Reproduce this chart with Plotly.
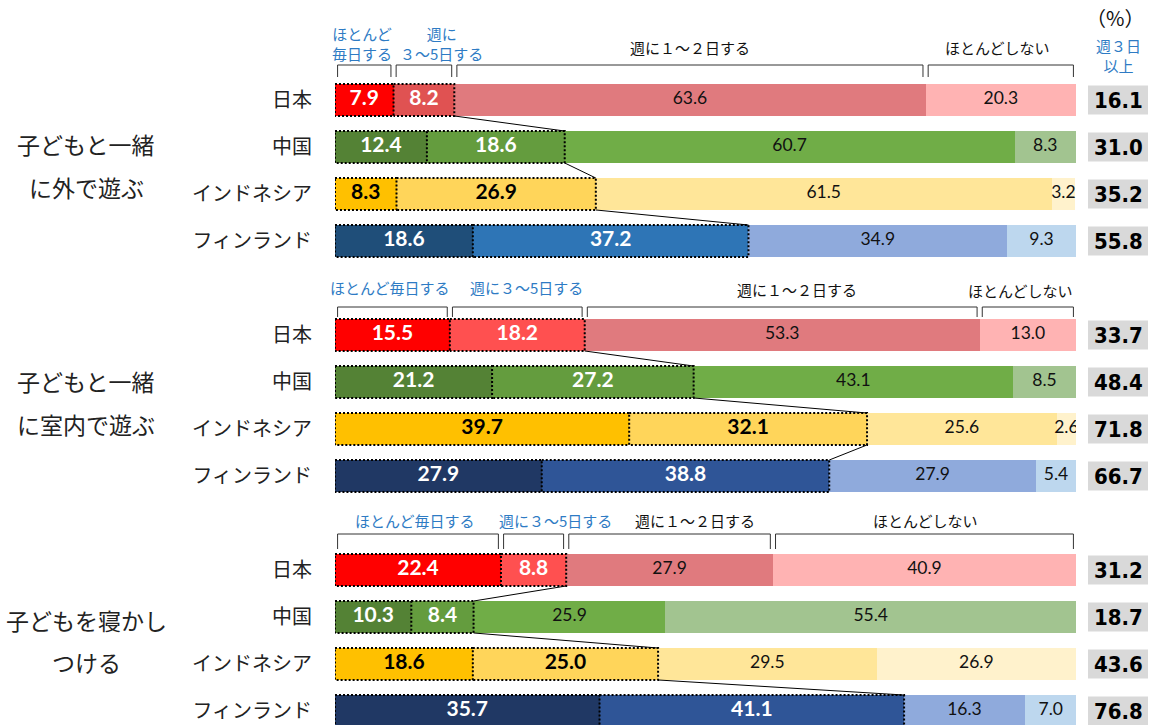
import plotly.graph_objects as go

# ---------------------------------------------------------------
# data
groups = ["子どもと一緒に外で遊ぶ", "子どもと一緒に室内で遊ぶ", "子どもを寝かしつける"]
group_lines = [["子どもと一緒", "に外で遊ぶ"],
               ["子どもと一緒", "に室内で遊ぶ"],
               ["子どもを寝かし", "つける"]]
countries = ["日本", "中国", "インドネシア", "フィンランド"]
segments = ["ほとんど毎日する", "週に３～5日する", "週に１～２日する", "ほとんどしない"]

outside = [[7.9, 8.2, 63.6, 20.3],
           [12.4, 18.6, 60.7, 8.3],
           [8.3, 26.9, 61.5, 3.2],
           [18.6, 37.2, 34.9, 9.3]]
indoor = [[15.5, 18.2, 53.3, 13.0],
          [21.2, 27.2, 43.1, 8.5],
          [39.7, 32.1, 25.6, 2.6],
          [27.9, 38.8, 27.9, 5.4]]
bedtime = [[22.4, 8.8, 27.9, 40.9],
           [10.3, 8.4, 25.9, 55.4],
           [18.6, 25.0, 29.5, 26.9],
           [35.7, 41.1, 16.3, 7.0]]
week3_plus = [[16.1, 31.0, 35.2, 55.8],
              [33.7, 48.4, 71.8, 66.7],
              [31.2, 18.7, 43.6, 76.8]]
all_data = [outside, indoor, bedtime]

# ---------------------------------------------------------------
# colours (group -> country -> segment)
def palette(g):
    red2 = "#E05252" if g == 0 else "#FF5050"
    fin1 = "#1F4E79" if g == 0 else "#203864"
    fin2 = "#2E75B6" if g == 0 else "#2F5597"
    return [["#FF0000", red2, "#E07A7E", "#FFB3B3"],
            ["#548235", "#649C3E", "#70AD47", "#A2C490"],
            ["#FFC000", "#FFD55A", "#FFE699", "#FFF2CC"],
            [fin1, fin2, "#8FAADC", "#BDD7EE"]]

W, H = 1152, 725
ROW0_PX, ROW_PX = 100, 47          # pixel centre of first row, row pitch
Y_TOP = -ROW0_PX / ROW_PX
Y_BOT = (H - ROW0_PX) / ROW_PX
HALF = 0.34                         # half bar thickness in row units

JP = "Noto Sans CJK JP"
NUM = "Lato, Noto Sans, sans-serif"
BLUE = "#2E7BC4"
DOT = dict(color="black", width=2, dash="2px,2px")

def px_y(p):
    return 1 - p / H

def px_x(p):
    return p / W

ys, cols, vals = [], [], []
for g, data in enumerate(all_data):
    pal = palette(g)
    for r, row in enumerate(data):
        ys.append(g * 5 + r)
        vals.append(row)
        cols.append(pal[r])

fig = go.Figure()

# stacked bars
for k in range(4):
    fig.add_trace(go.Bar(
        y=ys, x=[v[k] for v in vals], orientation="h",
        marker=dict(color=[c[k] for c in cols], line=dict(width=0)),
        width=2 * HALF, name=segments[k], hoverinfo="x+y"
    ))

# segment labels
for k in range(4):
    xs, txt, tcol = [], [], []
    for i, v in enumerate(vals):
        base = sum(v[:k])
        xs.append(base + v[k] / 2)
        r = ys[i] % 5
        if k < 2:
            txt.append(f"<b>{v[k]:.1f}</b>")
            tcol.append("black" if r == 2 else "white")
        else:
            txt.append(f"{v[k]:.1f}")
            tcol.append("#111111")
    fig.add_trace(go.Scatter(
        x=xs, y=ys, mode="text", text=txt, hoverinfo="skip",
        textfont=dict(family=NUM, size=21 if k < 2 else 17.5, color=tcol),
        showlegend=False
    ))

shapes = []
annotations = []

# dotted frames + connector lines
for i, v in enumerate(vals):
    y = ys[i]
    y0, y1 = y - HALF, y + HALF
    a, b = v[0], v[0] + v[1]
    shapes.append(dict(type="rect", xref="x", yref="y", x0=0, x1=a, y0=y0, y1=y1, line=DOT))
    shapes.append(dict(type="path", xref="x", yref="y",
                       path=f"M {a},{y0} L {b},{y0} L {b},{y1} L {a},{y1}", line=DOT))
    if y % 5 < 3:
        nv = vals[i + 1]
        shapes.append(dict(type="line", xref="x", yref="y",
                           x0=b, y0=y1,
                           x1=nv[0] + nv[1], y1=ys[i + 1] - HALF,
                           line=dict(color="black", width=1)))

# brackets over the Japan bar of each group
bracket_px = [(35, 23), (28, 18), (36, 21)]   # top / bottom offset above row centre
for g, data in enumerate(all_data):
    jp = data[0]
    yc = g * 5
    yt = yc - bracket_px[g][0] / ROW_PX
    yb = yc - bracket_px[g][1] / ROW_PX
    edge = 0
    for k in range(4):
        x0 = edge + 0.35
        x1 = edge + jp[k] - 0.35
        edge += jp[k]
        shapes.append(dict(type="path", xref="x", yref="y",
                           path=f"M {x0},{yb} L {x0},{yt} L {x1},{yt} L {x1},{yb}",
                           line=dict(color="#333333", width=1)))

# bracket labels (pixel positions)
seg_labels = [
    [("ほとんど<br>毎日する", 362, 44, BLUE), ("週に<br>３～5日する", 441, 44, BLUE),
     ("週に１～２日する", 690, 47, "#111111"), ("ほとんどしない", 997, 47, "#111111")],
    [("ほとんど毎日する", 390, 287, BLUE), ("週に３～5日する", 526, 287, BLUE),
     ("週に１～２日する", 797, 289, "#111111"), ("ほとんどしない", 1020, 290, "#111111")],
    [("ほとんど毎日する", 415, 520, BLUE), ("週に３～5日する", 555, 520, BLUE),
     ("週に１～２日する", 695, 520, "#111111"), ("ほとんどしない", 925, 520, "#111111")],
]
for g in range(3):
    for text, x, y, c in seg_labels[g]:
        annotations.append(dict(text=text, x=px_x(x), y=px_y(y), xref="paper", yref="paper",
                                showarrow=False, xanchor="center", yanchor="middle",
                                font=dict(family=JP, size=15, color=c)))

# left group titles
title_px = [(144, 187), (381, 424), (620, 662)]
for g in range(3):
    for line, yp in zip(group_lines[g], title_px[g]):
        annotations.append(dict(text=line, x=px_x(86), y=px_y(yp), xref="paper", yref="paper",
                                showarrow=False, xanchor="center", yanchor="middle",
                                font=dict(family=JP, size=23, color="#222222")))

# right column: week 3+ totals
annotations.append(dict(text="（%）", x=px_x(1115), y=px_y(18), xref="paper", yref="paper",
                        showarrow=False, xanchor="center", yanchor="middle",
                        font=dict(family=JP, size=20, color="#111111")))
annotations.append(dict(text="週３日<br>以上", x=px_x(1118), y=px_y(56), xref="paper", yref="paper",
                        showarrow=False, xanchor="center", yanchor="middle",
                        font=dict(family=JP, size=15, color=BLUE)))
for g in range(3):
    for r in range(4):
        y = g * 5 + r
        shapes.append(dict(type="rect", xref="paper", yref="y",
                           x0=px_x(1088), x1=px_x(1148),
                           y0=y - 0.31, y1=y + 0.31,
                           fillcolor="#D9D9D9", line=dict(width=0), layer="below"))
        annotations.append(dict(text=f"<b>{week3_plus[g][r]:.1f}</b>", x=px_x(1118), y=y,
                                xref="paper", yref="y", showarrow=False,
                                xanchor="center", yanchor="middle",
                                font=dict(family="DejaVu Sans Condensed, Liberation Sans, sans-serif",
                                          size=22, color="black")))

fig.update_layout(
    template="none",
    width=W, height=H,
    margin=dict(l=0, r=0, t=0, b=0),
    barmode="stack", bargap=0,
    showlegend=False,
    paper_bgcolor="white", plot_bgcolor="white",
    xaxis=dict(domain=[px_x(335), px_x(1076)], range=[0, 100],
               visible=False, fixedrange=True),
    yaxis=dict(range=[Y_BOT, Y_TOP], tickvals=ys,
               ticktext=[countries[y % 5] for y in ys],
               ticks="", showgrid=False, zeroline=False, showline=False,
               automargin=False, ticklabelstandoff=22,
               tickfont=dict(family=JP, size=20, color="#222222")),
    shapes=shapes, annotations=annotations,
)

fig.write_html("out.html", config={"displayModeBar": False},
               post_script="document.body.style.margin='0';")
